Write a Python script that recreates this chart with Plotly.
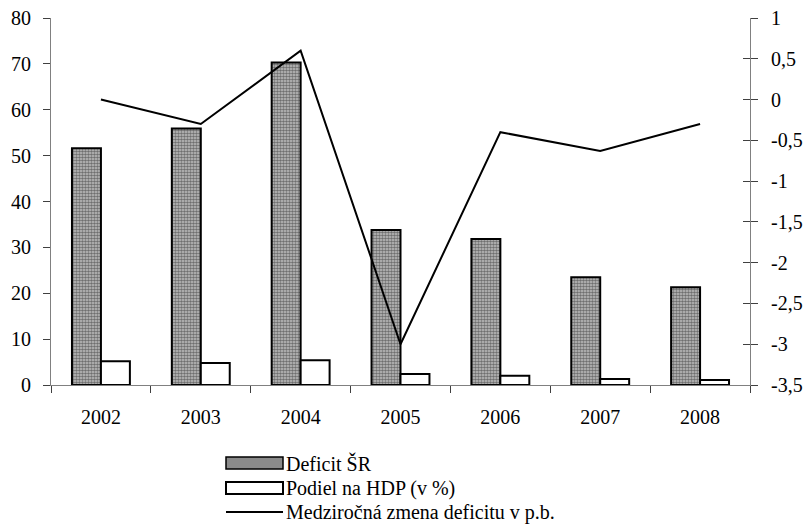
import plotly.graph_objects as go

years = ["2002", "2003", "2004", "2005", "2006", "2007", "2008"]
deficit_sr = [51.6, 55.9, 70.3, 33.8, 31.8, 23.5, 21.3]
podiel_hdp = [5.2, 4.8, 5.4, 2.4, 2.0, 1.3, 1.1]
zmena_deficitu = [0.0, -0.3, 0.6, -3.0, -0.4, -0.63, -0.3]

right_tickvals = [1, 0.5, 0, -0.5, -1, -1.5, -2, -2.5, -3, -3.5]
right_ticktext = ["1", "0,5", "0", "-0,5", "-1", "-1,5", "-2", "-2,5", "-3", "-3,5"]

legend_names = ["Deficit ŠR", "Podiel na HDP (v %)", "Medziročná zmena deficitu v p.b."]

FONT = "Liberation Serif, Times New Roman, serif"
FSIZE = 20
DOTS = dict(shape=".", size=3, solidity=0.6, fgcolor="#1a1a1a", bgcolor="#c4c4c4")

W, H = 803, 530
# plot area in pixels: x 51..750, y 18..385
L, R, T, B = 51, 750, 18, 385

fig = go.Figure()

# --- bars on the left axis ---
fig.add_trace(
    go.Bar(
        x=years, y=deficit_sr,
        name=legend_names[0],
        marker=dict(color="#8c8c8c", line=dict(color="black", width=2), pattern=DOTS),
    )
)
fig.add_trace(
    go.Bar(
        x=years, y=podiel_hdp,
        name=legend_names[1],
        marker=dict(color="white", line=dict(color="black", width=2)),
    )
)

# --- year-on-year change on the right axis ---
fig.add_trace(
    go.Scatter(
        x=years, y=zmena_deficitu,
        name=legend_names[2],
        mode="lines",
        line=dict(color="black", width=2),
        yaxis="y2",
    )
)

# dummy invisible trace so the inner-tick axis is drawn
fig.add_trace(
    go.Scatter(x=[years[0]], y=[None], yaxis="y3", showlegend=False,
               hoverinfo="skip", mode="markers")
)

# --- hand-made legend below the plot (wide swatches like the original) ---
def px_x(p):
    return (p - L) / float(R - L)

def px_y(p):
    return (B - p) / float(B - T)

legend_shapes = [
    dict(type="rect", xref="paper", yref="paper",
         x0=px_x(226), x1=px_x(283), y0=px_y(469), y1=px_y(457),
         fillcolor="#8a8a8a", line=dict(color="black", width=1.5)),
    dict(type="rect", xref="paper", yref="paper",
         x0=px_x(226), x1=px_x(283), y0=px_y(494), y1=px_y(482),
         fillcolor="white", line=dict(color="black", width=2)),
    dict(type="line", xref="paper", yref="paper",
         x0=px_x(226), x1=px_x(283), y0=px_y(512), y1=px_y(512),
         line=dict(color="black", width=2)),
]
legend_text_y = [463, 488, 512]
legend_annotations = [
    dict(xref="paper", yref="paper", x=px_x(284), y=px_y(ty),
         xanchor="left", yanchor="middle", showarrow=False,
         text=name, font=dict(family=FONT, size=FSIZE, color="black"))
    for name, ty in zip(legend_names, legend_text_y)
]

fig.update_layout(
    width=W, height=H,
    margin=dict(l=L, r=W - R, t=T, b=H - B, pad=0, autoexpand=False),
    plot_bgcolor="white",
    paper_bgcolor="white",
    font=dict(family=FONT, size=FSIZE, color="black"),
    barmode="group",
    bargap=0.42,
    bargroupgap=0,
    showlegend=False,
    shapes=legend_shapes,
    annotations=legend_annotations,
    xaxis=dict(
        automargin=False,
        showline=True, linecolor="#808080", linewidth=1,
        ticks="outside", tickson="boundaries", ticklen=7,
        tickcolor="#404040", ticklabelstandoff=14,
        ticklabeloverflow="allow",
        showgrid=False,
    ),
    yaxis=dict(
        automargin=False,
        range=[0, 80], dtick=10,
        showline=True, linecolor="#808080", linewidth=1,
        ticks="outside", ticklen=7, tickcolor="#404040",
        ticklabelstandoff=8, ticklabeloverflow="allow",
        showgrid=False, zeroline=False,
    ),
    yaxis2=dict(
        automargin=False,
        overlaying="y", side="right",
        range=[-3.5, 1],
        tickvals=right_tickvals, ticktext=right_ticktext,
        showline=True, linecolor="#808080", linewidth=1,
        ticks="outside", ticklen=7, tickcolor="#404040",
        ticklabelstandoff=9, ticklabeloverflow="allow",
        showgrid=False, zeroline=False,
    ),
    # inner half of the crossing ticks on the right axis
    yaxis3=dict(
        automargin=False,
        overlaying="y", side="right", anchor="x",
        range=[-3.5, 1],
        tickvals=right_tickvals, showticklabels=False,
        ticks="inside", ticklen=7, tickcolor="#404040",
        showline=False, showgrid=False, zeroline=False,
    ),
)

# drop the browser's default 8px body margin so the figure sits at 0,0
fig.write_html(
    "out.html",
    config={"displayModeBar": False},
    post_script="document.body.style.margin='0';document.body.style.overflow='hidden';",
)
